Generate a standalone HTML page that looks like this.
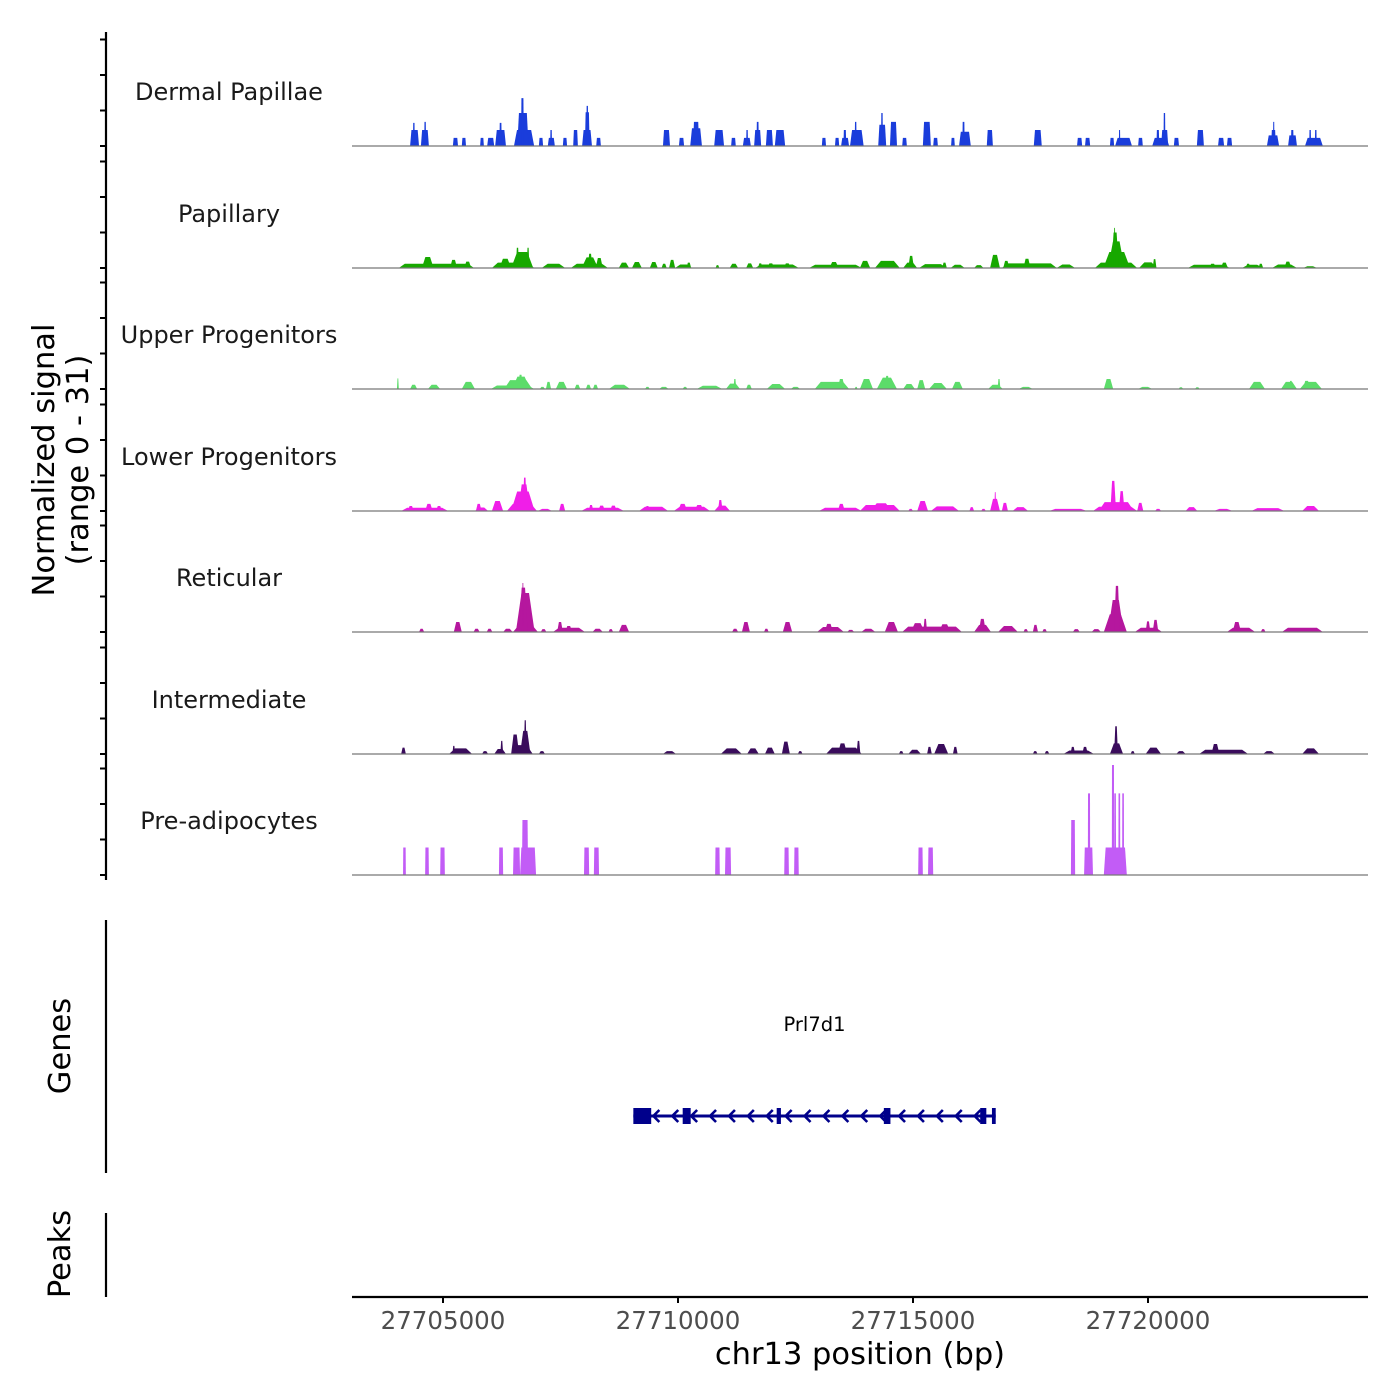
<!DOCTYPE html>
<html><head><meta charset="utf-8">
<style>
html,body{margin:0;padding:0;background:#fff;}
svg{display:block;font-family:"DejaVu Sans","Liberation Sans",sans-serif;}
</style></head>
<body>
<svg id="chart" width="1400" height="1400" viewBox="0 0 1400 1400">
  <g id="tracks"></g>
  <g id="yaxis">
    <line x1="106" y1="32" x2="106" y2="880" stroke="#000" stroke-width="2.2"/>
  </g>
  <text transform="translate(54,460) rotate(-90)" text-anchor="middle" font-size="30.5" fill="#000">Normalized signal</text>
  <text transform="translate(88,460) rotate(-90)" text-anchor="middle" font-size="30.5" fill="#000">(range 0 - 31)</text>

  <line x1="106" y1="920" x2="106" y2="1173" stroke="#000" stroke-width="2.2"/>
  <text transform="translate(70,1046) rotate(-90)" text-anchor="middle" font-size="30.5" fill="#000">Genes</text>
  <line x1="106" y1="1213" x2="106" y2="1297" stroke="#000" stroke-width="2.2"/>
  <text transform="translate(70,1254) rotate(-90)" text-anchor="middle" font-size="30.5" fill="#000">Peaks</text>

  <g id="gene"></g>
  <g id="xaxis">
    <line x1="352" y1="1297" x2="1368" y2="1297" stroke="#000" stroke-width="2.2"/>
  </g>
  <text x="860" y="1364" text-anchor="middle" font-size="30.5" fill="#000">chr13 position (bp)</text>
</svg>
<script>
const ORIGIN = 27700000; // peak positions in kb offset from this
const trackNames = ["Dermal Papillae","Papillary","Upper Progenitors","Lower Progenitors","Reticular","Intermediate","Pre-adipocytes"];
const trackColors = ["#1a3ddb","#17a800","#5cdc6a","#f01ee8","#b5179e","#3a0c5c","#c25cf6"];
const xTicks = [27705000,27710000,27715000,27720000];
const yTickValues = [0,10,20,30];

const dermalPeaks = [[4.30,4.49,4.5],[4.36,4.40,6.5],[4.53,4.70,4.5],[4.60,4.64,6.8],[5.21,5.32,2.3],[5.40,5.49,2.3],[5.79,5.87,2.3],[5.94,6.09,2.3],[6.11,6.34,4.5],[6.20,6.25,6.5],[6.51,6.94,4.5],[6.58,6.82,9.3],[6.66,6.72,13.5],[7.04,7.13,2.3],[7.23,7.38,2.3],[7.28,7.32,4.5],[7.55,7.64,2.3],[7.77,7.87,4.5],[7.96,8.17,4.5],[8.02,8.12,9.5],[8.05,8.09,11.3],[8.26,8.36,2.3],[9.68,9.83,4.5],[10.02,10.13,2.3],[10.26,10.51,5],[10.32,10.45,6.8],[10.77,10.98,4.5],[11.13,11.23,2.3],[11.38,11.55,2.3],[11.45,11.49,4.5],[11.62,11.77,4.5],[11.67,11.72,6.8],[11.87,12.02,4.5],[12.06,12.28,4.5],[13.06,13.15,2.3],[13.34,13.43,2.3],[13.47,13.64,2.3],[13.52,13.58,4.5],[13.66,13.95,4.5],[13.76,13.80,6.8],[14.26,14.43,6],[14.32,14.36,9.3],[14.51,14.66,6.8],[14.77,14.87,2.3],[15.21,15.38,6.8],[15.43,15.53,2.3],[15.81,15.89,2.3],[15.98,16.23,4],[16.05,16.10,6.8],[16.57,16.70,4.5],[17.57,17.74,4.5],[18.49,18.60,2.3],[18.66,18.77,2.3],[19.19,19.28,2.3],[19.30,19.66,2.3],[19.38,19.41,4.5],[19.79,19.89,2.3],[20.09,20.45,2.3],[20.18,20.24,4.5],[20.28,20.43,4.5],[20.33,20.37,9.3],[20.55,20.66,2.3],[21.04,21.19,4.5],[21.49,21.62,2.3],[21.68,21.79,2.3],[22.53,22.79,3],[22.62,22.72,4.5],[22.66,22.69,6.8],[22.98,23.17,3],[23.04,23.10,4.5],[23.34,23.72,2.3],[23.43,23.47,4.5],[23.55,23.59,4.5]];

const papillaryPeaks = [[4.06,5.66,1.2],[4.55,4.80,3.1],[5.15,5.30,2.3],[5.45,5.60,1.8],[6.04,6.94,1.5],[6.20,6.45,2.6],[6.45,6.92,4.5],[6.55,6.62,5.7],[6.78,6.84,5.7],[7.10,7.60,1.2],[7.72,8.51,1.2],[7.95,8.30,3.0],[8.08,8.18,4.0],[8.25,8.40,2.8],[8.74,8.96,1.5],[9.02,9.23,1.7],[9.40,9.57,1.7],[9.65,9.76,1.2],[9.81,9.94,2.3],[9.94,10.30,1.0],[10.18,10.28,1.5],[10.80,10.88,0.8],[11.10,11.28,1.2],[11.45,11.60,1.3],[11.64,12.57,1.0],[11.70,11.80,1.3],[11.90,12.05,1.3],[12.25,12.40,1.3],[12.79,13.91,0.9],[13.22,13.42,1.7],[13.87,14.09,2.0],[14.19,14.72,2.0],[14.79,15.09,1.5],[14.90,15.02,3.4],[15.13,15.72,1.1],[15.62,15.72,1.5],[15.80,16.10,0.9],[16.30,16.50,0.8],[16.64,16.85,3.7],[16.89,18.06,1.3],[16.92,17.05,2.0],[17.35,17.50,2.6],[18.06,18.45,1.0],[18.87,19.77,1.5],[19.05,19.62,4.5],[19.15,19.50,7.5],[19.22,19.38,10],[19.27,19.31,11.3],[19.81,20.19,1.6],[20.10,20.18,2.5],[20.85,21.74,0.9],[21.30,21.45,1.2],[21.55,21.70,1.5],[22.00,22.45,0.9],[22.08,22.18,1.2],[22.35,22.45,1.2],[22.64,23.17,1.0],[22.90,23.05,1.8],[23.30,23.60,0.5]];

const upperPeaks = [[4.02,4.06,3],[4.30,4.45,1.2],[4.68,4.94,1.2],[5.40,5.68,2.0],[6.02,6.94,1.0],[6.30,6.90,2.5],[6.47,6.85,3.5],[6.60,6.70,4.0],[7.06,7.17,0.6],[7.19,7.30,2.0],[7.40,7.64,2.0],[7.80,7.92,1.2],[8.04,8.15,1.2],[8.19,8.30,1.2],[8.53,8.98,1.2],[9.30,9.40,0.6],[9.60,9.80,0.6],[10.10,10.20,0.6],[10.40,10.94,0.9],[11.02,11.32,1.5],[11.18,11.24,2.8],[11.45,11.57,1.2],[11.89,12.28,1.4],[12.40,12.60,0.6],[12.91,13.64,2.0],[13.40,13.55,2.8],[13.76,13.82,0.6],[13.87,14.15,2.8],[14.23,14.66,3.2],[14.40,14.50,3.7],[14.79,15.04,1.4],[15.09,15.26,2.5],[15.34,15.72,1.7],[15.83,16.06,2.0],[16.60,16.91,1.2],[16.80,16.86,2.8],[17.25,17.55,0.6],[19.06,19.26,2.8],[19.79,20.09,0.6],[20.65,20.75,0.5],[21.00,21.10,0.5],[22.15,22.49,2.0],[22.83,23.17,2.0],[23.00,23.08,2.3],[23.23,23.70,2.0],[23.30,23.45,2.3]];

const lowerPeaks = [[4.11,5.11,0.9],[4.25,4.38,1.4],[4.62,4.78,2.0],[4.85,4.98,1.4],[5.68,5.96,1.0],[5.70,5.82,2.0],[6.04,6.28,2.8],[6.36,7.00,2.0],[6.45,6.95,5.5],[6.60,6.85,7.5],[6.70,6.78,9.4],[7.02,7.32,0.6],[7.47,7.60,2.0],[7.94,8.85,0.9],[8.10,8.20,1.7],[8.30,8.45,1.5],[8.55,8.70,1.5],[9.17,9.79,1.2],[9.30,9.40,1.4],[9.91,10.68,1.2],[10.00,10.20,2.0],[10.35,10.55,1.7],[10.77,11.11,1.5],[10.85,10.95,3.1],[13.00,13.91,0.9],[13.40,13.55,2.0],[13.87,14.72,1.7],[14.10,14.55,2.2],[14.90,15.00,0.6],[15.09,15.32,2.8],[15.38,15.98,1.3],[16.20,16.30,1.1],[16.45,16.55,0.6],[16.64,16.85,3.4],[16.73,16.77,5.3],[16.89,17.02,2.3],[17.12,17.45,1.1],[17.90,18.70,0.6],[18.83,19.77,1.2],[18.95,19.70,2.5],[19.20,19.32,8.5],[19.38,19.50,5.6],[19.77,19.90,2.3],[20.15,20.28,0.6],[20.80,21.05,1.1],[21.40,21.80,0.6],[22.20,22.90,0.8],[23.28,23.64,1.4]];

const reticularPeaks = [[4.49,4.60,0.9],[5.23,5.40,2.8],[5.65,5.78,0.9],[5.93,6.05,0.9],[6.28,6.48,0.9],[6.49,7.02,2.0],[6.55,6.95,11],[6.62,6.80,12.5],[6.68,6.72,13.8],[7.08,7.20,0.8],[7.34,8.02,1.2],[7.43,7.55,2.8],[7.60,7.75,1.7],[8.18,8.40,0.9],[8.52,8.62,0.8],[8.74,8.96,2.0],[11.15,11.28,0.9],[11.36,11.53,2.8],[11.83,11.93,0.9],[12.23,12.43,2.8],[12.96,13.53,1.4],[13.12,13.30,2.3],[13.60,13.75,0.6],[13.90,14.20,0.9],[14.40,14.68,2.8],[14.77,16.04,1.5],[14.95,15.25,2.5],[15.22,15.30,3.7],[15.55,15.80,2.2],[16.30,16.66,2.0],[16.40,16.55,3.7],[16.81,17.23,1.7],[17.35,17.45,0.8],[17.55,17.66,2.0],[17.75,17.85,0.8],[18.40,18.55,0.8],[18.80,19.00,0.8],[19.06,19.55,5.0],[19.15,19.48,9.0],[19.28,19.40,13.0],[19.72,20.30,1.2],[19.95,20.05,3.0],[20.10,20.22,3.4],[21.68,22.28,1.2],[21.80,21.98,2.8],[22.40,22.50,0.8],[22.85,23.72,1.2]];

const intermediatePeaks = [[4.11,4.21,1.8],[5.13,5.62,1.6],[5.20,5.26,2.3],[5.83,5.96,0.8],[6.09,6.34,1.4],[6.22,6.28,3.7],[6.45,6.91,2.5],[6.45,6.62,5.5],[6.64,6.86,6.5],[6.72,6.78,9.5],[7.04,7.17,0.8],[9.68,9.96,0.8],[10.91,11.36,1.6],[11.47,11.72,1.6],[11.85,12.06,1.8],[12.21,12.38,3.5],[12.55,12.65,0.8],[13.15,13.91,1.8],[13.40,13.60,3.0],[13.80,13.88,3.7],[14.70,14.80,0.8],[14.90,15.17,1.2],[15.30,15.40,2.0],[15.45,15.75,2.8],[15.85,15.95,2.0],[17.55,17.65,0.8],[17.80,17.90,0.8],[18.20,18.85,1.0],[18.35,18.45,2.0],[18.60,18.72,2.0],[19.19,19.47,3.0],[19.28,19.36,7.8],[19.63,19.72,0.8],[19.95,20.28,1.8],[20.60,20.80,0.8],[21.09,22.13,1.2],[21.35,21.52,2.8],[22.45,22.70,0.8],[23.28,23.64,1.6]];

const preadipoPeaks = [[4.15,4.21,7.75],[4.62,4.70,7.75],[4.94,5.04,7.75],[6.19,6.28,7.75],[6.49,6.64,7.75],[6.68,6.81,15.5],[6.64,6.98,7.75],[8.00,8.11,7.75],[8.21,8.32,7.75],[10.79,10.89,7.75],[11.00,11.13,7.75],[12.26,12.36,7.75],[12.47,12.57,7.75],[15.11,15.21,7.75],[15.32,15.43,7.75],[18.36,18.45,15.5],[18.64,18.83,7.75],[18.72,18.77,23],[19.06,19.55,7.75],[19.23,19.28,31],[19.28,19.32,23],[19.37,19.41,23],[19.45,19.49,23]];

const allPeaks = [dermalPeaks,papillaryPeaks,upperPeaks,lowerPeaks,reticularPeaks,intermediatePeaks,preadipoPeaks];
const trackShape = [0.15,0.3,0.3,0.3,0.3,0.3,0.08];

const geneName = "Prl7d1";
const geneStart = 27709050, geneEnd = 27716760;
const exonStarts = [27709050,27710100,27712100,27714380,27716430,27716680];
const exonEnds   = [27709430,27710270,27712190,27714520,27716560,27716760];

// axis functions
const X0 = 27703064, X1 = 27724681, PX0 = 352, PX1 = 1368;
function xScale(bp){ return PX0 + (bp - X0) / (X1 - X0) * (PX1 - PX0); }
function kbToBp(kb){ return ORIGIN + kb * 1000; }
const baselines = [146,268,389,511,632,754,875];
const UNIT = 3.55;
function yScale(track, v){ return baselines[track] - v * UNIT; }

const NS = "http://www.w3.org/2000/svg";
function mk(tag, attrs, parent){ const e = document.createElementNS(NS, tag); for (const k in attrs) e.setAttribute(k, attrs[k]); parent.appendChild(e); return e; }

const tracksG = document.getElementById('tracks');
const yaxisG = document.getElementById('yaxis');
trackNames.forEach((name, t) => {
  const g = mk('g', {}, tracksG);
  
  
  const lbl = mk('text', {x: 229, y: baselines[t] - 46, 'text-anchor': 'middle', 'font-size': 24, fill: '#1a1a1a'}, g);
  lbl.textContent = name;
  
  
  allPeaks[t].forEach(p => {
    const x0 = xScale(kbToBp(p[0])), x1 = xScale(kbToBp(p[1]));
    const s = Math.min((x1 - x0) * trackShape[t], 6);
    const yb = yScale(t, 0), yt = yScale(t, p[2]);
    const poly = mk('polygon', {points: `${x0},${yb} ${x0+s},${yt} ${x1-s},${yt} ${x1},${yb}`, fill: trackColors[t]}, g);
    
    
  });
  const bl = mk('line', {x1: PX0, x2: PX1, y1: baselines[t], y2: baselines[t], stroke: '#777', 'stroke-width': 1.2}, g);
  
  
  yTickValues.forEach(v => {
    const y = yScale(t, v);
    const tk = mk('line', {x1: 100, x2: 106, y1: y, y2: y, stroke: '#000', 'stroke-width': 2}, yaxisG);
    
    
  });
});

// gene
const geneG = document.getElementById('gene');
const gy = 1116;
const gl = mk('line', {x1: xScale(geneStart), x2: xScale(geneEnd), y1: gy, y2: gy, stroke: '#00008b', 'stroke-width': 3}, geneG);


for (let x = xScale(geneStart) + 20; x < xScale(geneEnd) - 6; x += 18.9) {
  const a = mk('polyline', {points: `${x+6},${gy-6} ${x},${gy} ${x+6},${gy+6}`, fill: 'none', stroke: '#00008b', 'stroke-width': 2.6}, geneG);
  
  
}
exonStarts.forEach((s, i) => {
  const x0 = xScale(s), x1 = xScale(exonEnds[i]);
  const r = mk('rect', {x: x0, y: gy - 8, width: Math.max(x1 - x0, 3), height: 16, fill: '#00008b'}, geneG);
  
  
});
const gt = mk('text', {x: (xScale(geneStart) + xScale(geneEnd)) / 2, y: 1031, 'text-anchor': 'middle', 'font-size': 19.5, fill: '#000'}, geneG);
gt.textContent = geneName;



// x axis
const xg = document.getElementById('xaxis');
xTicks.forEach(v => {
  const x = xScale(v);
  const tk = mk('line', {x1: x, x2: x, y1: 1297, y2: 1303, stroke: '#000', 'stroke-width': 2}, xg);
  
  
  const tl = mk('text', {x: x, y: 1329, 'text-anchor': 'middle', 'font-size': 24.5, fill: '#4d4d4d'}, xg);
  tl.textContent = String(v);
  
  
});
</script>
</body></html>
